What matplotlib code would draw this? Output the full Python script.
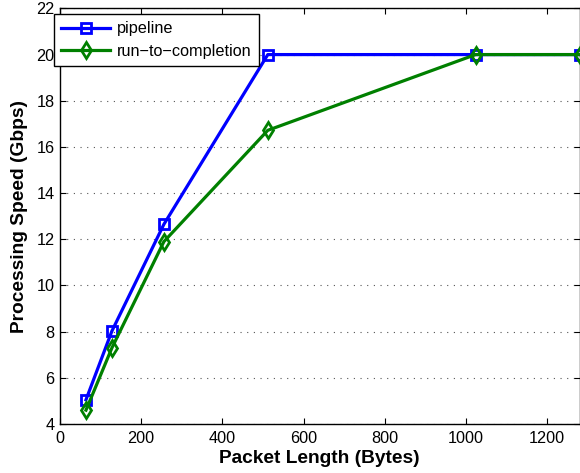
import matplotlib
matplotlib.use("Agg")
import matplotlib.pyplot as plt

packet_len = [64, 128, 256, 512, 1024, 1280]
pipeline = [5.05, 8.03, 12.65, 20.0, 20.0, 20.0]
rtc = [4.6, 7.3, 11.9, 16.72, 20.0, 20.0]
xticks = [0, 200, 400, 600, 800, 1000, 1200]
yticks = [4, 6, 8, 10, 12, 14, 16, 18, 20, 22]

plt.rcParams['font.family'] = ['Liberation Sans', 'DejaVu Sans']

fig = plt.figure(figsize=(5.8, 4.73), dpi=100)
ax = fig.add_axes([60/580, 1 - 424/473, 519.5/580, (424 - 8.4)/473])

ax.plot(packet_len, pipeline, color='#0000ff', lw=2.3, marker='s', ms=7,
        mfc='none', mec='#0000ff', mew=2, label='pipeline', clip_on=False, zorder=3)
ax.plot(packet_len, rtc, color='#008000', lw=2.3, marker='d', ms=8,
        mfc='none', mec='#008000', mew=2, label='run\u2212to\u2212completion', clip_on=False, zorder=4)

ax.set_xlim(0, 1280)
ax.set_ylim(4, 22)
ax.set_xticks(xticks)
ax.set_yticks(yticks)
ax.tick_params(direction='in', top=True, right=True, labelsize=11.7, length=4, width=0.8)
ax.tick_params(axis='x', pad=5)
ax.tick_params(axis='y', pad=4)
ax.yaxis.grid(True, linestyle=(0, (1, 5)), color='#555555', lw=0.8)
ax.set_axisbelow(True)
for s in ax.spines.values():
    s.set_linewidth(1.0)

ax.set_xlabel('Packet Length (Bytes)', fontsize=13.8, fontweight='bold', labelpad=3)
ax.set_ylabel('Processing Speed (Gbps)', fontsize=13.8, fontweight='bold', labelpad=6)

leg = ax.legend(loc='upper left', bbox_to_anchor=(54/580, 1 - 14/473),
                bbox_transform=fig.transFigure, borderaxespad=0, fontsize=11.7,
                handlelength=3.0, handletextpad=0.4, fancybox=False, framealpha=1,
                edgecolor='black', borderpad=0.45, labelspacing=0.45)
leg.get_frame().set_linewidth(1.0)

fig.savefig('out.png', dpi=100)
